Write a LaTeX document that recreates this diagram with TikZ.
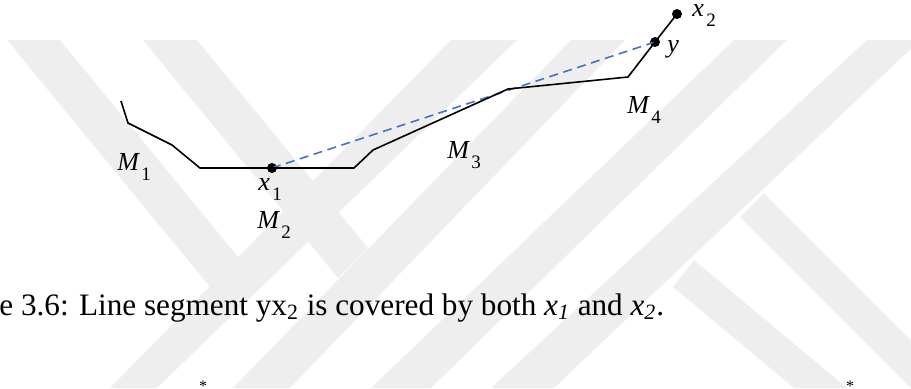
\documentclass[tikz,border=0pt]{standalone}
\usepackage{fontspec}
\setmainfont{Liberation Serif}
\definecolor{wm}{RGB}{238,238,238}
\definecolor{dashblue}{RGB}{68,114,196}
\newcommand{\lab}[2]{\fontsize{13}{13}\selectfont\itshape #1\kern1.2pt\raisebox{-5pt}{\upshape\fontsize{9.5}{9.5}\selectfont #2}}
\tikzset{
  curve/.style={line width=0.8pt, line join=miter},
  chord/.style={line width=0.8pt, dashblue, dash pattern=on 4.5pt off 2.8pt},
  dot/.style={circle, fill=black, inner sep=0pt, minimum size=5pt},
  lbl/.style={anchor=base west, inner sep=0pt},
  band/.style={fill=wm, draw=none}
}
\begin{document}
\begin{tikzpicture}[x=0.5pt,y=-0.5pt]
\useasboundingbox (0,0) rectangle (911,388);
\clip (0,0) rectangle (911,388);
% watermark (approximate)
\fill[band] (7,40) -- (60,40) -- (238,257) -- (210,287) -- cycle;
\fill[band] (451,40) -- (517,40) -- (157,388) -- (110,388) -- cycle;
\fill[band] (143,40) -- (197,40) -- (368,248) -- (338,278) -- cycle;
\fill[band] (571,40) -- (625,40) -- (290,388) -- (233,388) -- cycle;
\fill[band] (734,40) -- (787,40) -- (431,388) -- (371,388) -- cycle;
\fill[band] (867,40) -- (920,40) -- (554,388) -- (491,388) -- cycle;
\fill[band] (764,193) -- (1000,429) -- (1000,477) -- (740,217) -- cycle;
\fill[band] (694,260) -- (847,388) -- (794,388) -- (673,287) -- cycle;
% polyline
\coordinate (p1) at (121,101);
\coordinate (p2) at (128,123);
\coordinate (p3) at (172,145);
\coordinate (p4) at (200,168);
\node[dot] (x1) at (272,168) {};
\coordinate (p6) at (354,168);
\coordinate (p7) at (373,150);
\coordinate (p8) at (508,89);
\coordinate (p9) at (628,77);
\node[dot] (y) at (655,42) {};
\node[dot] (x2) at (677,14) {};
\draw[chord] (x1.center) -- (y.center);
\draw[curve] (p1) -- (p2) -- (p3) -- (p4) -- (x1.center) -- (p6) -- (p7) -- (p8) -- (p9) -- (y.center) -- (x2.center);
% labels
\node[lbl] (m1) at (117,170) {\lab{M}{1}};
\node[lbl] (lx1) at (258,190) {\lab{x}{1}};
\node[lbl] (m2) at (257,228) {\lab{M}{2}};
\node[lbl] (m3) at (447,158) {\lab{M}{3}};
\node[lbl] (m4) at (627,113) {\lab{M}{4}};
\node[lbl] (ly) at (667,52) {\fontsize{13}{13}\selectfont\itshape y};
\node[lbl] (lx2) at (692,16) {\lab{x}{2}};
% caption
\node[lbl] (cap) at (-1,315) {\fontsize{15.6}{15.6}\selectfont e 3.6: Line segment yx\textsubscript{2} is covered by both \textit{x\textsubscript{1}} and \textit{x\textsubscript{2}}.};
% cut-off marks at the bottom edge
\node[anchor=north, inner sep=0pt] (s1) at (203,381) {\fontsize{8}{8}\selectfont *};
\node[anchor=north, inner sep=0pt] (s2) at (850,381) {\fontsize{8}{8}\selectfont *};
\end{tikzpicture}
\end{document}
